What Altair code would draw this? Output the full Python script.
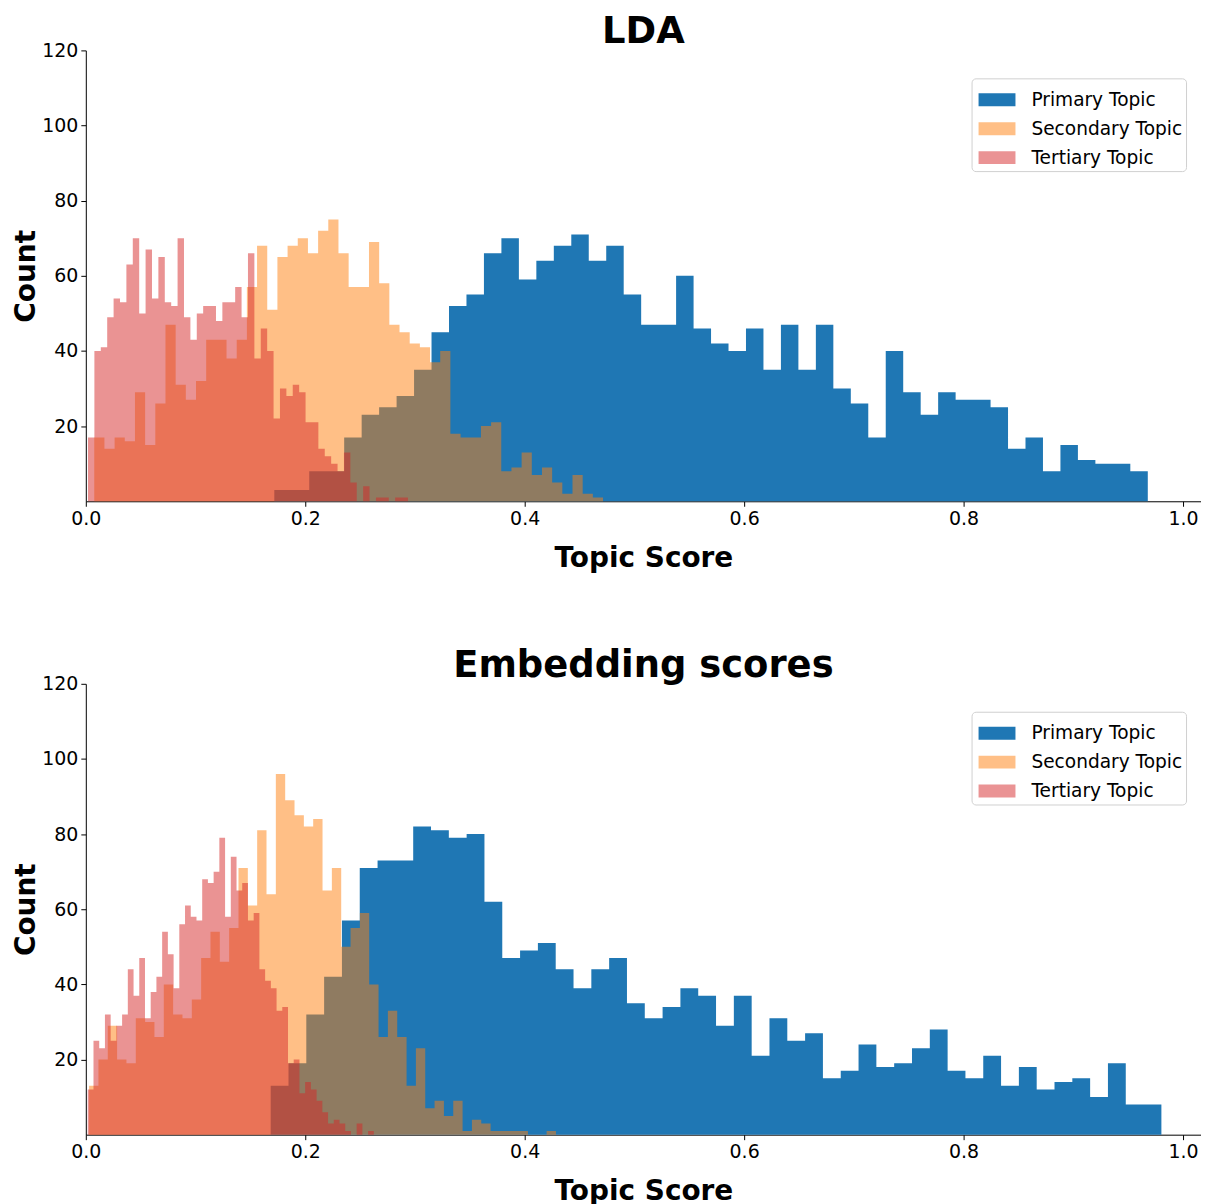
import altair as alt
import numpy as np
import pandas as pd

SERIES = ["Primary Topic", "Secondary Topic", "Tertiary Topic"]
COLORS = ["#1f77b4", "#ff7f0e", "#d62728"]
ALPHAS = [1.0, 0.5, 0.5]

X_TICKS = [0.0, 0.2, 0.4, 0.6, 0.8, 1.0]
Y_TICKS = [20, 40, 60, 80, 100, 120]
X_DOMAIN = [0.0, 1.0164]
Y_DOMAIN = [0, 120]

# ---- LDA panel: histogram ranges (first/last bin edge) and bin counts ----
lda_primary_range = [0.1718, 0.9679]
lda_primary_counts = [3, 3, 8, 8, 17, 23, 25, 28, 35, 45, 52, 55, 66, 70, 59, 64, 68, 71, 64, 68,
                      55, 47, 47, 60, 46, 42, 40, 46, 35, 47, 35, 47, 30, 26, 17, 40, 29, 23, 29, 27,
                      27, 25, 14, 17, 8, 15, 11, 10, 10, 8]

lda_secondary_range = [0.0077, 0.4714]
lda_secondary_counts = [17, 14, 17, 16, 29, 15, 26, 47, 31, 27, 32, 43, 43, 38, 43, 57, 68, 51, 65, 68,
                        70, 66, 72, 75, 66, 57, 57, 69, 58, 47, 45, 42, 41, 37, 40, 18, 17, 17, 20, 21,
                        8, 9, 13, 7, 9, 5, 2, 7, 2, 1]

lda_tertiary_range = [0.0020, 0.2936]
lda_tertiary_counts = [17, 40, 41, 49, 54, 53, 63, 70, 50, 67, 54, 65, 53, 52, 70, 49, 43, 50, 52, 52,
                       48, 53, 53, 57, 49, 66, 38, 46, 40, 22, 30, 28, 31, 29, 21, 21, 14, 12, 10, 8,
                       13, 5, 0, 4, 0, 1, 1, 0, 1, 1]

# ---- Embedding panel ----
emb_primary_range = [0.1685, 0.9803]
emb_primary_counts = [13, 19, 32, 42, 57, 71, 73, 73, 82, 81, 79, 80, 62, 47, 49, 51, 44, 39, 44, 47,
                      35, 31, 34, 39, 37, 29, 37, 21, 31, 25, 27, 15, 17, 24, 18, 19, 23, 28, 17, 15,
                      21, 13, 18, 12, 14, 15, 10, 19, 8, 8]

emb_secondary_range = [0.0030, 0.4285]
emb_secondary_counts = [13, 20, 29, 20, 19, 31, 30, 26, 40, 32, 31, 36, 47, 54, 46, 55, 71, 61, 81, 64,
                        96, 89, 85, 82, 84, 65, 71, 50, 55, 59, 40, 26, 33, 26, 13, 23, 7, 9, 5, 9,
                        1, 4, 3, 1, 1, 1, 1, 0, 0, 1]

emb_tertiary_range = [0.0018, 0.2625]
emb_tertiary_counts = [12, 25, 23, 32, 25, 29, 32, 44, 37, 47, 31, 38, 42, 54, 48, 39, 56, 61, 58, 57,
                       68, 67, 70, 79, 58, 74, 65, 67, 57, 59, 44, 41, 39, 33, 34, 19, 20, 11, 14, 12,
                       9, 6, 3, 4, 3, 1, 0, 3, 0, 1]

LEGEND_SYMBOL = "M-1,-0.35H1V0.35H-1Z"


def blend_on_white(hex_color, alpha):
    rgb = [int(hex_color[i:i + 2], 16) for i in (1, 3, 5)]
    mixed = [round(alpha * c + (1 - alpha) * 255) for c in rgb]
    return "#" + "".join(f"{c:02x}" for c in mixed)


LEGEND_COLORS = [blend_on_white(c, a) for c, a in zip(COLORS, ALPHAS)]


def hist_frame(name, rng, counts):
    edges = np.linspace(rng[0], rng[1], len(counts) + 1)
    return pd.DataFrame({
        "score": edges,
        "count": list(counts) + [0],
        "series": name,
    })


def panel(title, parts):
    x_enc = alt.X("score:Q",
                  scale=alt.Scale(domain=X_DOMAIN, nice=False, zero=False),
                  axis=alt.Axis(values=X_TICKS, format=".1f", title="Topic Score", labelFlush=False))
    y_enc = alt.Y("count:Q", stack=None,
                  scale=alt.Scale(domain=Y_DOMAIN, nice=False),
                  axis=alt.Axis(values=Y_TICKS, title="Count"))
    layers = []
    for name, color, alpha, (rng, counts) in zip(SERIES, COLORS, ALPHAS, parts):
        df = hist_frame(name, rng, counts)
        layers.append(
            alt.Chart(df).mark_area(interpolate="step-after", color=color, opacity=alpha).encode(
                x=x_enc, y=y_enc, y2=alt.datum(0)
            )
        )
    # legend-only layer (invisible marks) with the swatch colours as they appear on white
    legend_df = pd.DataFrame({"series": SERIES, "score": [0.0] * 3, "count": [0] * 3})
    leg = alt.Legend(title=None, orient="none", legendX=888, legendY=28,
                     symbolType=LEGEND_SYMBOL, symbolSize=1369, symbolOpacity=1)
    layers.append(
        alt.Chart(legend_df).mark_square(opacity=0).encode(
            x=x_enc, y=y_enc,
            color=alt.Color("series:N", scale=alt.Scale(domain=SERIES, range=LEGEND_COLORS), legend=leg),
        )
    )
    return alt.layer(*layers).properties(width=1118, height=452, title=alt.Title(title))


top = panel("LDA", [(lda_primary_range, lda_primary_counts),
                    (lda_secondary_range, lda_secondary_counts),
                    (lda_tertiary_range, lda_tertiary_counts)])
bottom = panel("Embedding scores", [(emb_primary_range, emb_primary_counts),
                                    (emb_secondary_range, emb_secondary_counts),
                                    (emb_tertiary_range, emb_tertiary_counts)])

chart = alt.vconcat(top, bottom, spacing=75).resolve_scale(
    color="independent"
).properties(
    padding={"left": 4, "top": 4, "right": 0, "bottom": 0}
).configure_view(
    strokeWidth=0
).configure_axis(
    labelFont="DejaVu Sans", labelFontSize=19, labelColor="black",
    titleFont="DejaVu Sans", titleFontSize=28, titleFontWeight="bold", titleColor="black",
    domainColor="black", tickColor="black", domainWidth=1, tickWidth=1,
    grid=False, tickSize=5, labelPadding=3,
).configure_axisX(
    titlePadding=16
).configure_axisY(
    titlePadding=1
).configure_title(
    font="DejaVu Sans", fontSize=37, fontWeight="bold", color="black", offset=-10, anchor="middle"
).configure_legend(
    labelFont="DejaVu Sans", labelFontSize=18.6, labelColor="black",
    fillColor="white", strokeColor="#d0d0d0", cornerRadius=4, padding=3,
    rowPadding=-2, labelOffset=16, symbolOffset=4, symbolStrokeWidth=0, labelLimit=400,
)

chart.save("out.html", embed_options={"renderer": "svg", "actions": False})
